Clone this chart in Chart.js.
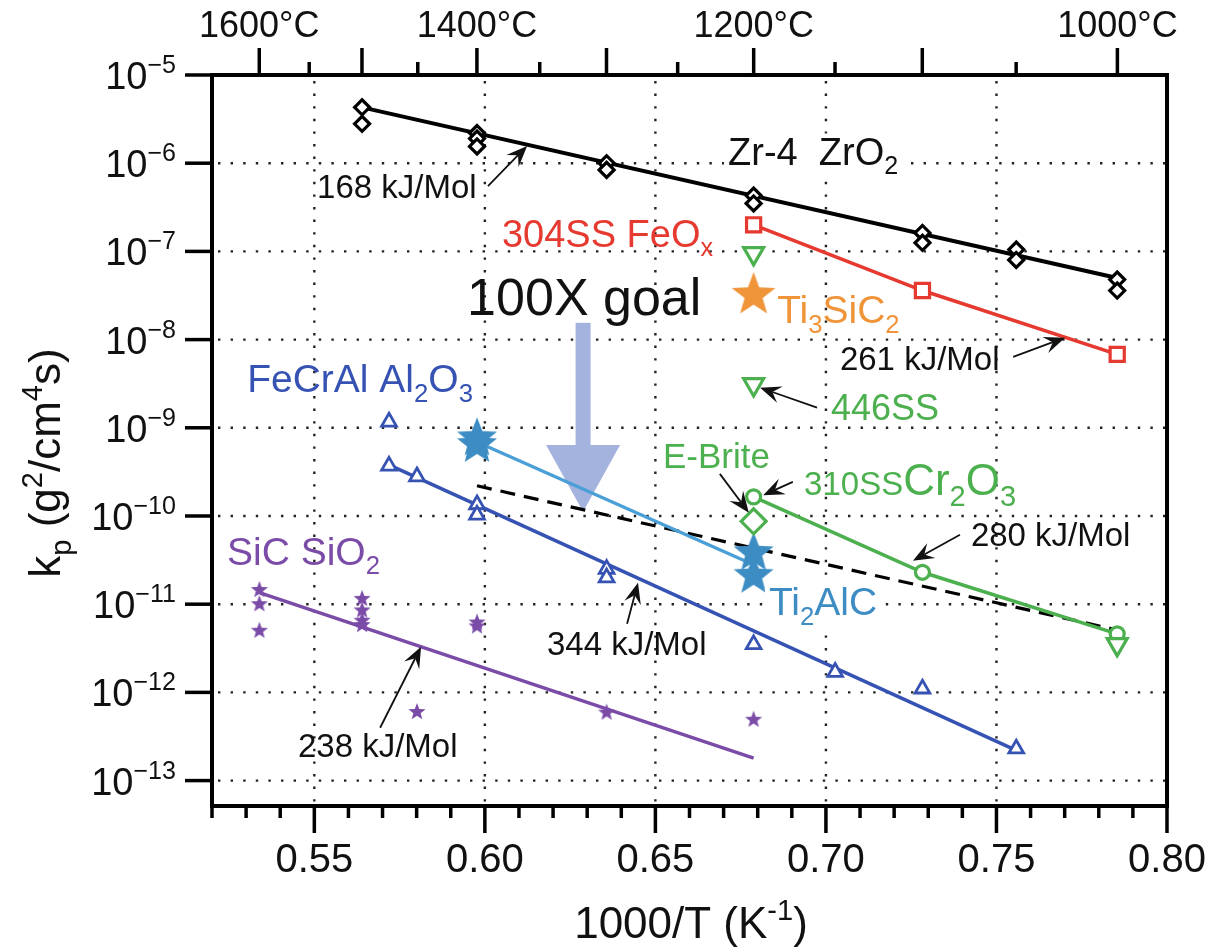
<!DOCTYPE html>
<html>
<head>
<meta charset="utf-8">
<script src="https://cdn.jsdelivr.net/npm/chart.js@4.4.1/dist/chart.umd.min.js"></script>
<style>
  body { margin: 0; background: #fff; }
  #wrap { width: 1205px; height: 948px; }
</style>
</head>
<body>
<div id="wrap"><canvas id="kp" width="1205" height="948"></canvas></div>
<script>
// ---- data: x = 1000/T (1/K), y = kp (g^2/cm^4 s) ----

// Zr-4 (ZrO2)
const zrX   = [0.564, 0.564, 0.5977, 0.5977, 0.5977, 0.6357, 0.6357, 0.6788, 0.6788, 0.7283, 0.7283, 0.7558, 0.7558, 0.7854, 0.7854];
const zrKp  = [4.3e-6, 2.8e-6, 2.2e-6, 1.9e-6, 1.55e-6, 1.0e-6, 8.4e-7, 4.3e-7, 3.5e-7, 1.62e-7, 1.25e-7, 1.05e-7, 8.0e-8, 4.8e-8, 3.6e-8];
const zrFitX  = [0.564, 0.7854];
const zrFitKp = [4.3e-6, 5.0e-8];

// 304SS (FeOx)
const ss304X  = [0.6788, 0.7283, 0.7854];
const ss304Kp = [2.0e-7, 3.6e-8, 6.8e-9];

// 446SS
const ss446X  = [0.6788, 0.6788, 0.7854];
const ss446Kp = [9.5e-8, 3.1e-9, 3.5e-12];

// 310SS (Cr2O3)
const ss310X  = [0.6788, 0.7283, 0.7854];
const ss310Kp = [1.65e-10, 2.3e-11, 4.6e-12];

// E-Brite
const ebX  = [0.6788];
const ebKp = [8.7e-11];

// Ti3SiC2
const tscX  = [0.6788];
const tscKp = [3.2e-8];

// Ti2AlC
const tacX  = [0.5977, 0.5977, 0.6788, 0.6788];
const tacKp = [7.6e-10, 6.4e-10, 3.8e-11, 2.1e-11];
const tacFitX  = [0.5977, 0.6788];
const tacFitKp = [6.9e-10, 2.8e-11];

// FeCrAl (Al2O3)
const fcaX  = [0.5719, 0.5719, 0.5801, 0.5977, 0.5977, 0.6357, 0.6357, 0.6788, 0.7027, 0.7283, 0.7558];
const fcaKp = [1.17e-9, 3.7e-10, 2.8e-10, 1.35e-10, 1.03e-10, 2.5e-11, 2.0e-11, 3.5e-12, 1.7e-12, 1.1e-12, 2.3e-13];
const fcaFitX  = [0.5719, 0.7558];
const fcaFitKp = [3.8e-10, 2.2e-13];

// SiC (SiO2)
const sicX  = [0.5339, 0.5339, 0.5339, 0.564, 0.564, 0.564, 0.564, 0.5801, 0.5977, 0.5977, 0.6357, 0.6788];
const sicKp = [1.45e-11, 1.0e-11, 5.0e-12, 1.15e-11, 8.5e-12, 6.5e-12, 5.8e-12, 6.0e-13, 6.2e-12, 5.6e-12, 5.9e-13, 4.9e-13];
const sicFitX  = [0.5339, 0.6788];
const sicFitKp = [1.35e-11, 1.8e-13];

// 100X goal (dashed)
const goalX  = [0.5977, 0.7854];
const goalKp = [2.2e-10, 5.1e-12];

// axis ticks
const xTicks = [0.55, 0.60, 0.65, 0.70, 0.75, 0.80];
const yExps  = [-5, -6, -7, -8, -9, -10, -11, -12, -13];
const topTempsC = [1000, 1050, 1100, 1150, 1200, 1250, 1300, 1350, 1400, 1450, 1500, 1550, 1600];
const topLabelC = [1600, 1400, 1200, 1000];

// ---- styles ----
const FONT = '"Liberation Sans", Arial, Helvetica, sans-serif';
const INK = '#111';
const RED = '#e6392f';
const GREEN = '#4cb04f';
const BLUE = '#3653b3';
const PURPLE = '#7b4ba8';
const ORANGE = '#f0943a';
const TI2 = '#3d8dc4';
const TI2LINE = '#4a9fd6';
const GOAL = '#a4b2de';

// annotations, placed in data space
const notes = [
  {x: 0.5508, y: 4.06e-7, size: 33, color: INK, segs: [{t: '168 kJ/Mol'}]},
  {x: 0.6713, y: 9.6e-7, size: 38, color: INK, bg: true, segs: [{t: 'Zr-4  ZrO'}, {t: '2', sub: true}]},
  {x: 0.6050, y: 1.13e-7, size: 38, color: RED, segs: [{t: '304SS FeO'}, {t: 'x', sub: true}]},
  {x: 0.5948, y: 1.91e-8, size: 52, color: INK, segs: [{t: '100X goal'}]},
  {x: 0.6857, y: 1.55e-8, size: 39, color: ORANGE, segs: [{t: 'Ti'}, {t: '3', sub: true}, {t: 'SiC'}, {t: '2', sub: true}]},
  {x: 0.7041, y: 4.55e-9, size: 33, color: INK, segs: [{t: '261 kJ/Mol'}]},
  {x: 0.7015, y: 1.23e-9, size: 36, color: GREEN, segs: [{t: '446SS'}]},
  {x: 0.5303, y: 2.56e-9, size: 39, color: BLUE, segs: [{t: 'FeCrAl Al'}, {t: '2', sub: true}, {t: 'O'}, {t: '3', sub: true}]},
  {x: 0.6522, y: 3.52e-10, size: 35, color: GREEN, segs: [{t: 'E-Brite'}]},
  {x: 0.6936, y: 1.74e-10, size: 44, color: GREEN, segs: [{t: '310SS', size: 33}, {t: 'Cr'}, {t: '2', sub: true}, {t: 'O'}, {t: '3', sub: true}]},
  {x: 0.7425, y: 4.59e-11, size: 33, color: INK, segs: [{t: '280 kJ/Mol'}]},
  {x: 0.6833, y: 7.58e-12, size: 39, color: TI2, bg: true, segs: [{t: 'Ti'}, {t: '2', sub: true}, {t: 'AlC'}]},
  {x: 0.6182, y: 2.67e-12, size: 33, color: INK, segs: [{t: '344 kJ/Mol'}]},
  {x: 0.5244, y: 2.8e-11, size: 39, color: PURPLE, segs: [{t: 'SiC SiO'}, {t: '2', sub: true}]},
  {x: 0.5452, y: 1.86e-13, size: 33, color: INK, segs: [{t: '238 kJ/Mol'}]}
];

const pointers = [
  {from: [0.6009, 5.5e-7], to: [0.6124, 1.57e-6]},
  {from: [0.7549, 6.38e-9], to: [0.7701, 1.05e-8]},
  {from: [0.6974, 1.69e-9], to: [0.6807, 2.85e-9]},
  {from: [0.6689, 3.0e-10], to: [0.6774, 1.09e-10]},
  {from: [0.6903, 2.44e-10], to: [0.6816, 1.72e-10]},
  {from: [0.7393, 6.12e-11], to: [0.7255, 3.1e-11]},
  {from: [0.6417, 6.0e-12], to: [0.6449, 1.75e-11]},
  {from: [0.5693, 3.97e-13], to: [0.5813, 3.3e-12]}
];

const goalArrow = {x: 0.6288, top: 1.55e-8, base: 6.4e-10, tip: 1.12e-10};

function pts(xs, ys) {
  return xs.map((v, i) => ({x: v, y: ys[i]}));
}

function starImage(color, outer, inner) {
  let c = document.createElement('canvas');
  let s = Math.ceil(outer * 2 + 4);
  c.width = s;
  c.height = s;
  let g = c.getContext('2d');
  g.translate(s / 2, s / 2);
  g.beginPath();
  for (let i = 0; i < 10; i++) {
    let r = i % 2 ? inner : outer;
    let ang = -Math.PI / 2 + i * Math.PI / 5;
    g.lineTo(r * Math.cos(ang), r * Math.sin(ang));
  }
  g.closePath();
  g.fillStyle = color;
  g.fill();
  return c;
}

function segSize(s, size) {
  let base = s.size || size;
  return (s.sub || s.sup) ? base * 0.66 : base;
}

function richWidth(ctx, segs, size) {
  let w = 0;
  for (let s of segs) {
    ctx.font = segSize(s, size) + 'px ' + FONT;
    w += ctx.measureText(s.t).width;
  }
  return w;
}

function drawRich(ctx, segs, x, y, size, color, align) {
  let w = richWidth(ctx, segs, size);
  let cx = align === 'center' ? x - w / 2 : align === 'right' ? x - w : x;
  ctx.fillStyle = color;
  ctx.textAlign = 'left';
  ctx.textBaseline = 'alphabetic';
  for (let s of segs) {
    let base = s.size || size;
    ctx.font = segSize(s, size) + 'px ' + FONT;
    let dy = s.sub ? base * 0.25 : s.sup ? -base * 0.42 : 0;
    ctx.fillText(s.t, cx, y + dy);
    cx += ctx.measureText(s.t).width;
  }
  return w;
}

function drawPointer(ctx, x0, y0, x1, y1) {
  let ang = Math.atan2(y1 - y0, x1 - x0);
  let len = 21, half = 8.5, notch = 13;
  ctx.strokeStyle = INK;
  ctx.lineWidth = 1.8;
  ctx.beginPath();
  ctx.moveTo(x0, y0);
  ctx.lineTo(x1 - Math.cos(ang) * notch, y1 - Math.sin(ang) * notch);
  ctx.stroke();
  ctx.save();
  ctx.translate(x1, y1);
  ctx.rotate(ang);
  ctx.fillStyle = INK;
  ctx.beginPath();
  ctx.moveTo(0, 0);
  ctx.lineTo(-len, -half);
  ctx.lineTo(-notch, 0);
  ctx.lineTo(-len, half);
  ctx.closePath();
  ctx.fill();
  ctx.restore();
}

const axisPlugin = {
  id: 'axisFrame',
  beforeDatasetsDraw(chart) {
    let ctx = chart.ctx, a = chart.chartArea;
    let xs = chart.scales.x, ys = chart.scales.y;
    ctx.save();
    // dotted grid
    ctx.strokeStyle = '#222';
    ctx.lineWidth = 2.4;
    ctx.setLineDash([2.4, 10.2]);
    xTicks.forEach(v => {
      let px = xs.getPixelForValue(v);
      if (px > a.left + 2 && px < a.right - 2) {
        ctx.beginPath();
        ctx.moveTo(px, a.top + 6);
        ctx.lineTo(px, a.bottom);
        ctx.stroke();
      }
    });
    yExps.forEach(e => {
      let py = ys.getPixelForValue(Math.pow(10, e));
      if (py > a.top + 2 && py < a.bottom - 2) {
        ctx.beginPath();
        ctx.moveTo(a.left + 6, py);
        ctx.lineTo(a.right, py);
        ctx.stroke();
      }
    });
    ctx.setLineDash([]);
    // 100X goal arrow
    let ax = xs.getPixelForValue(goalArrow.x);
    let yTop = ys.getPixelForValue(goalArrow.top);
    let yBase = ys.getPixelForValue(goalArrow.base);
    let yTip = ys.getPixelForValue(goalArrow.tip);
    ctx.fillStyle = GOAL;
    ctx.fillRect(ax - 7.5, yTop, 15, yBase - yTop + 1);
    ctx.beginPath();
    ctx.moveTo(ax - 37, yBase);
    ctx.lineTo(ax + 37, yBase);
    ctx.lineTo(ax, yTip);
    ctx.closePath();
    ctx.fill();
    ctx.restore();
  },
  afterDatasetsDraw(chart) {
    let ctx = chart.ctx, a = chart.chartArea;
    let xs = chart.scales.x, ys = chart.scales.y;
    ctx.save();

    // annotation text
    notes.forEach(n => {
      let px = xs.getPixelForValue(n.x), py = ys.getPixelForValue(n.y);
      if (n.bg) {
        let w = richWidth(ctx, n.segs, n.size);
        ctx.fillStyle = '#fff';
        ctx.fillRect(px - 4, py - n.size * 0.82, w + 8, n.size * 1.15);
      }
      drawRich(ctx, n.segs, px, py, n.size, n.color, 'left');
    });
    pointers.forEach(p => {
      drawPointer(ctx,
        xs.getPixelForValue(p.from[0]), ys.getPixelForValue(p.from[1]),
        xs.getPixelForValue(p.to[0]), ys.getPixelForValue(p.to[1]));
    });

    // frame
    ctx.strokeStyle = '#000';
    ctx.lineWidth = 4;
    ctx.strokeRect(a.left, a.top, a.right - a.left, a.bottom - a.top);

    // bottom ticks, every 0.01
    ctx.lineWidth = 3.5;
    for (let i = 52; i <= 80; i++) {
      let v = i / 100;
      let px = xs.getPixelForValue(v);
      let major = i % 5 === 0;
      ctx.beginPath();
      ctx.moveTo(px, a.bottom);
      ctx.lineTo(px, a.bottom + (major ? 27 : 12));
      ctx.stroke();
    }
    xTicks.forEach(v => {
      drawRich(ctx, [{t: v.toFixed(2)}], xs.getPixelForValue(v), a.bottom + 66, 40, INK, 'center');
    });

    // left ticks
    yExps.forEach(e => {
      let py = ys.getPixelForValue(Math.pow(10, e));
      ctx.strokeStyle = '#000';
      ctx.beginPath();
      ctx.moveTo(a.left - 27, py);
      ctx.lineTo(a.left, py);
      ctx.stroke();
      drawRich(ctx, [{t: '10'}, {t: '\u2212' + (-e), sup: true}], a.left - 36, py + 14, 38, INK, 'right');
    });

    // top axis in degrees C
    ctx.strokeStyle = '#000';
    topTempsC.forEach(c => {
      let v = 1000 / (c + 273.15);
      let px = xs.getPixelForValue(v);
      let major = c % 100 === 0;
      ctx.beginPath();
      ctx.moveTo(px, a.top);
      ctx.lineTo(px, a.top - (major ? 27 : 13));
      ctx.stroke();
    });
    topLabelC.forEach(c => {
      let px = xs.getPixelForValue(1000 / (c + 273.15));
      drawRich(ctx, [{t: c + '\u00b0C'}], px, a.top - 38, 36, INK, 'center');
    });

    // axis titles
    drawRich(ctx, [{t: '1000/T (K'}, {t: '-1', sup: true}, {t: ')'}], 691, a.bottom + 132, 44, INK, 'center');
    ctx.save();
    ctx.translate(60, 463);
    ctx.rotate(-Math.PI / 2);
    drawRich(ctx, [{t: 'k'}, {t: 'p', sub: true}, {t: ' (g'}, {t: '2', sup: true}, {t: '/cm'}, {t: '4', sup: true}, {t: 's)'}], 0, 0, 44, INK, 'center');
    ctx.restore();

    ctx.restore();
  }
};

const hollow = (color, style, r, extra) => Object.assign({
  showLine: false, pointStyle: style, pointRadius: r, pointBorderWidth: 3.2,
  pointBorderColor: color, pointBackgroundColor: '#fff', order: 0
}, extra || {});

const fitLine = (color, w, extra) => Object.assign({
  showLine: true, borderColor: color, borderWidth: w, pointRadius: 0, fill: false, order: 1
}, extra || {});

let kpChart = new Chart(document.getElementById('kp'), {
  type: 'scatter',
  data: {
    datasets: [
      Object.assign({data: pts(zrX, zrKp)}, hollow('#000', 'rectRot', 7.5)),
      Object.assign({data: pts(zrFitX, zrFitKp)}, fitLine('#000', 4)),
      Object.assign({data: pts(ss304X, ss304Kp)}, hollow(RED, 'rect', 10, {showLine: true, borderColor: RED, borderWidth: 3.5})),
      Object.assign({data: pts(ss446X, ss446Kp)}, hollow(GREEN, 'triangle', 11.5, {pointRotation: 180})),
      Object.assign({data: pts(ss310X, ss310Kp)}, hollow(GREEN, 'circle', 7, {showLine: true, borderColor: GREEN, borderWidth: 3.5})),
      Object.assign({data: pts(ebX, ebKp)}, hollow(GREEN, 'rectRot', 12.5)),
      {data: pts(tscX, tscKp), showLine: false, pointStyle: starImage(ORANGE, 23, 9.5), pointRadius: 20, order: 0},
      {data: pts(tacX, tacKp), showLine: false, pointStyle: starImage(TI2, 21, 9), pointRadius: 18, order: 0},
      Object.assign({data: pts(tacFitX, tacFitKp)}, fitLine(TI2LINE, 3.2)),
      Object.assign({data: pts(fcaX, fcaKp)}, hollow(BLUE, 'triangle', 8.5, {pointBorderWidth: 2.8})),
      Object.assign({data: pts(fcaFitX, fcaFitKp)}, fitLine(BLUE, 3.5)),
      {data: pts(sicX, sicKp), showLine: false, pointStyle: starImage(PURPLE, 9, 3.8), pointRadius: 7, order: 0},
      Object.assign({data: pts(sicFitX, sicFitKp)}, fitLine(PURPLE, 3.5)),
      Object.assign({data: pts(goalX, goalKp)}, fitLine('#000', 3.2, {borderDash: [15, 9], order: 2}))
    ]
  },
  options: {
    responsive: false,
    animation: false,
    devicePixelRatio: 1,
    layout: {padding: {left: 212, top: 75, right: 38, bottom: 142}},
    plugins: {legend: {display: false}, tooltip: {enabled: false}},
    scales: {
      x: {type: 'linear', min: 0.52, max: 0.80, display: false},
      y: {type: 'logarithmic', min: 5.15e-14, max: 1e-5, display: false}
    }
  },
  plugins: [axisPlugin]
});
</script>
</body>
</html>
